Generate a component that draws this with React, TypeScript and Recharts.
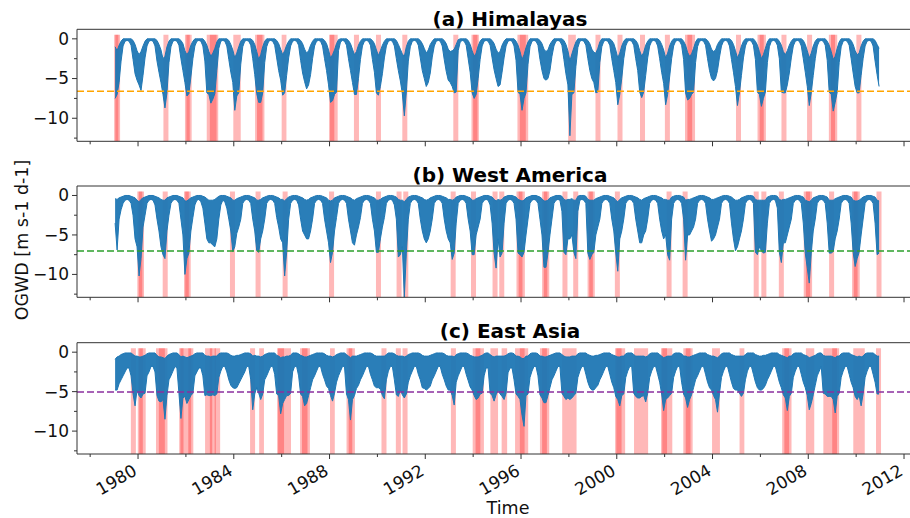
import React from 'react';
import { ComposedChart, Area, XAxis, YAxis, ReferenceArea, ReferenceLine } from 'recharts';

// ---------------- data (monthly envelope of daily OGWD, Jan 1979 .. Dec 2010) ----------------
const START_YEAR = 1979;

const himLow = [
  -7.5,-7.0,-5.5,-2.8,-0.9,-0.3,-0.2,-0.3,-0.8,-2.6,-4.4,-5.2,
  -5.8,-6.5,-4.6,-2.4,-0.9,-0.3,-0.2,-0.3,-0.9,-2.8,-4.2,-5.5,
  -7.0,-8.7,-6.8,-3.0,-1.0,-0.3,-0.2,-0.3,-0.8,-2.5,-4.0,-5.5,
  -7.2,-6.9,-4.8,-2.5,-0.9,-0.3,-0.2,-0.3,-0.9,-2.8,-6.8,-7.0,
  -8.1,-7.6,-6.9,-4.0,-1.2,-0.3,-0.2,-0.3,-0.9,-2.6,-4.2,-5.5,
  -9.0,-7.2,-6.8,-3.2,-1.0,-0.3,-0.2,-0.3,-0.8,-2.5,-4.5,-6.9,
  -8.0,-8.0,-6.8,-3.0,-1.0,-0.3,-0.2,-0.3,-0.8,-2.4,-4.0,-5.2,
  -7.1,-6.8,-4.6,-2.4,-0.9,-0.3,-0.2,-0.3,-0.8,-2.7,-4.3,-5.4,
  -6.3,-5.8,-4.5,-2.5,-0.9,-0.3,-0.2,-0.3,-0.9,-2.5,-4.0,-5.8,
  -8.0,-7.8,-7.0,-6.7,-1.5,-0.4,-0.2,-0.3,-0.8,-2.5,-4.0,-5.5,
  -7.0,-7.0,-5.0,-2.6,-0.9,-0.3,-0.2,-0.3,-0.8,-2.6,-4.2,-6.8,
  -7.1,-6.0,-4.4,-2.4,-0.9,-0.3,-0.2,-0.3,-0.9,-2.5,-4.0,-5.3,
  -6.9,-9.7,-6.7,-2.8,-1.0,-0.3,-0.2,-0.3,-0.8,-2.4,-4.0,-5.0,
  -6.0,-5.5,-4.3,-2.3,-0.9,-0.3,-0.2,-0.3,-0.9,-2.6,-4.1,-5.2,
  -5.5,-6.0,-6.8,-6.7,-1.5,-0.4,-0.2,-0.3,-0.8,-2.5,-4.2,-6.8,
  -7.5,-7.0,-5.0,-2.6,-0.9,-0.3,-0.2,-0.3,-0.8,-2.4,-3.9,-5.0,
  -6.0,-5.8,-4.2,-2.4,-0.9,-0.3,-0.2,-0.3,-0.9,-2.7,-6.7,-7.0,
  -9.0,-7.5,-6.8,-3.2,-1.0,-0.3,-0.2,-0.3,-0.8,-2.6,-4.0,-5.0,
  -5.2,-5.0,-4.0,-2.2,-0.9,-0.3,-0.2,-0.3,-0.8,-2.6,-4.4,-5.8,
  -12.2,-7.0,-6.8,-3.5,-1.1,-0.3,-0.2,-0.3,-0.8,-2.5,-4.0,-5.0,
  -5.5,-6.8,-6.7,-3.0,-1.0,-0.3,-0.2,-0.3,-0.8,-2.5,-4.0,-5.5,
  -8.3,-7.0,-5.0,-2.5,-0.9,-0.3,-0.2,-0.3,-0.8,-2.5,-4.0,-6.7,
  -7.4,-6.7,-4.6,-2.4,-0.9,-0.3,-0.2,-0.3,-0.9,-2.5,-4.2,-5.6,
  -8.3,-7.0,-4.8,-2.5,-0.9,-0.3,-0.2,-0.3,-0.8,-2.6,-6.8,-7.7,
  -7.5,-7.0,-6.7,-3.0,-1.0,-0.3,-0.2,-0.3,-0.8,-2.5,-4.0,-5.0,
  -5.3,-5.0,-4.0,-2.3,-0.9,-0.3,-0.2,-0.3,-0.9,-2.6,-4.2,-6.0,
  -8.4,-6.8,-4.6,-2.4,-0.9,-0.3,-0.2,-0.3,-0.8,-2.6,-6.7,-7.0,
  -8.5,-7.5,-6.7,-3.0,-1.0,-0.3,-0.2,-0.3,-0.8,-2.5,-6.7,-6.8,
  -6.8,-5.8,-4.3,-2.4,-0.9,-0.3,-0.2,-0.3,-0.9,-2.5,-4.2,-6.0,
  -8.4,-6.8,-4.6,-2.5,-0.9,-0.3,-0.2,-0.3,-0.8,-2.7,-6.7,-7.0,
  -9.1,-8.0,-6.7,-3.0,-1.0,-0.3,-0.2,-0.3,-0.8,-2.5,-4.3,-6.0,
  -6.8,-6.8,-4.6,-2.5,-0.9,-0.3,-0.2,-0.3,-0.9,-2.8,-4.5,-6.0,
];
const himHigh = [
  -1.0,-1.5,-0.8,-0.3,0,0,0,0,0,-0.2,-0.7,-1.5,
  -2.0,-1.6,-0.9,-0.3,0,0,0,0,0,-0.2,-0.7,-1.4,
  -2.5,-2.2,-1.0,-0.3,0,0,0,0,0,-0.2,-0.6,-1.5,
  -2.0,-1.6,-0.8,-0.3,0,0,0,0,0,-0.3,-0.8,-1.6,
  -2.2,-1.8,-1.2,-0.4,0,0,0,0,0,-0.2,-0.7,-1.4,
  -2.4,-1.8,-1.0,-0.3,0,0,0,0,0,-0.2,-0.7,-1.6,
  -2.6,-2.0,-1.0,-0.3,0,0,0,0,0,-0.2,-0.6,-1.3,
  -2.0,-1.5,-0.8,-0.3,0,0,0,0,0,-0.2,-0.6,-1.3,
  -1.8,-1.5,-0.8,-0.3,0,0,0,0,0,-0.2,-0.6,-1.4,
  -2.4,-2.0,-1.4,-0.6,-0.1,0,0,0,0,-0.2,-0.6,-1.3,
  -2.0,-1.6,-0.8,-0.3,0,0,0,0,0,-0.2,-0.6,-1.4,
  -2.1,-1.5,-0.8,-0.3,0,0,0,0,0,-0.2,-0.7,-1.3,
  -1.9,-2.2,-1.0,-0.3,0,0,0,0,0,-0.2,-0.6,-1.2,
  -1.8,-1.4,-0.7,-0.3,0,0,0,0,0,-0.2,-0.6,-1.3,
  -1.6,-1.5,-1.3,-0.7,-0.1,0,0,0,0,-0.2,-0.7,-1.5,
  -2.2,-1.8,-0.9,-0.3,0,0,0,0,0,-0.2,-0.6,-1.3,
  -1.8,-1.6,-0.8,-0.3,0,0,0,0,0,-0.3,-0.8,-1.6,
  -2.6,-2.0,-1.1,-0.4,0,0,0,0,0,-0.2,-0.6,-1.3,
  -1.6,-1.4,-0.7,-0.3,0,0,0,0,0,-0.2,-0.7,-1.5,
  -2.8,-1.9,-1.1,-0.4,0,0,0,0,0,-0.2,-0.6,-1.3,
  -1.7,-1.8,-1.2,-0.4,0,0,0,0,0,-0.2,-0.6,-1.4,
  -2.4,-1.8,-0.9,-0.3,0,0,0,0,0,-0.2,-0.6,-1.5,
  -2.2,-1.7,-0.8,-0.3,0,0,0,0,0,-0.2,-0.7,-1.4,
  -2.4,-1.8,-0.9,-0.3,0,0,0,0,0,-0.3,-0.8,-1.7,
  -2.2,-1.9,-1.2,-0.4,0,0,0,0,0,-0.2,-0.6,-1.3,
  -1.6,-1.4,-0.7,-0.3,0,0,0,0,0,-0.2,-0.7,-1.5,
  -2.4,-1.8,-0.9,-0.3,0,0,0,0,0,-0.3,-0.8,-1.6,
  -2.5,-2.0,-1.2,-0.4,0,0,0,0,0,-0.3,-0.8,-1.6,
  -2.0,-1.5,-0.8,-0.3,0,0,0,0,0,-0.2,-0.7,-1.5,
  -2.4,-1.8,-0.9,-0.3,0,0,0,0,0,-0.3,-0.8,-1.6,
  -2.6,-2.2,-1.2,-0.4,0,0,0,0,0,-0.2,-0.7,-1.5,
  -2.0,-1.8,-0.9,-0.3,0,0,0,0,0,-0.2,-0.7,-1.2,
];

const wamLow = [
  -3.5,-6.9,-3.0,-1.8,-1.0,-0.6,-0.5,-0.6,-1.0,-2.5,-5.5,-6.5,
  -10.2,-8.0,-4.0,-2.5,-1.0,-0.6,-0.5,-0.6,-1.2,-3.0,-4.5,-6.5,
  -7.5,-8.0,-4.5,-2.5,-1.0,-0.6,-0.5,-0.6,-1.0,-3.0,-5.0,-10.0,
  -8.0,-7.3,-4.5,-2.8,-1.2,-0.6,-0.5,-0.8,-1.6,-3.5,-5.5,-6.0,
  -6.0,-6.3,-6.5,-5.5,-3.0,-1.2,-0.6,-0.8,-1.6,-3.0,-4.5,-7.1,
  -6.5,-4.8,-4.0,-3.0,-1.0,-0.6,-0.5,-0.6,-1.0,-3.0,-4.5,-7.0,
  -7.2,-5.5,-4.5,-3.0,-1.0,-0.6,-0.5,-0.6,-1.0,-2.8,-4.0,-5.5,
  -6.0,-10.2,-7.2,-3.0,-1.0,-0.6,-0.5,-0.6,-1.2,-3.0,-4.5,-5.0,
  -5.5,-5.5,-4.5,-3.0,-1.0,-0.6,-0.5,-0.6,-1.0,-3.0,-4.5,-6.0,
  -8.5,-7.2,-4.5,-2.8,-1.0,-0.6,-0.5,-0.6,-1.0,-3.0,-4.5,-6.0,
  -6.3,-5.0,-4.0,-2.8,-1.0,-0.6,-0.5,-0.6,-1.0,-3.0,-4.5,-7.2,
  -7.2,-5.5,-4.0,-2.8,-1.0,-0.6,-0.5,-0.6,-1.2,-3.0,-7.8,-7.5,
  -6.5,-12.9,-7.3,-3.0,-1.0,-0.6,-0.5,-0.6,-1.0,-3.0,-4.5,-5.5,
  -6.0,-5.5,-4.5,-3.0,-1.0,-0.6,-0.5,-0.6,-1.0,-3.0,-4.5,-5.5,
  -6.0,-8.1,-7.3,-3.5,-1.0,-0.6,-0.5,-0.6,-1.0,-3.0,-4.5,-7.5,
  -7.5,-5.0,-4.0,-3.0,-1.0,-0.6,-0.5,-0.6,-1.2,-3.5,-7.3,-9.2,
  -5.5,-7.8,-7.3,-3.5,-1.0,-0.6,-0.5,-0.6,-1.0,-3.0,-7.3,-7.5,
  -7.8,-7.2,-5.0,-3.0,-1.0,-0.6,-0.5,-0.6,-1.0,-3.0,-5.0,-9.1,
  -9.1,-7.3,-5.0,-3.0,-1.0,-0.6,-0.5,-0.6,-2.0,-7.2,-7.5,-5.5,
  -5.5,-5.0,-7.2,-8.0,-2.0,-0.6,-0.5,-0.6,-1.0,-7.3,-8.1,-7.5,
  -7.2,-5.0,-4.0,-3.0,-1.0,-0.6,-0.5,-0.6,-1.0,-3.0,-4.5,-7.3,
  -9.6,-5.5,-4.5,-3.0,-1.0,-0.6,-0.5,-0.6,-1.0,-3.0,-4.5,-6.0,
  -6.0,-5.0,-4.5,-3.0,-1.0,-0.6,-0.5,-0.6,-1.0,-3.0,-4.5,-5.5,
  -5.0,-7.5,-8.2,-3.0,-1.0,-0.6,-0.5,-0.6,-1.0,-3.0,-8.2,-5.0,
  -5.0,-4.5,-4.0,-3.0,-1.0,-0.6,-0.5,-0.6,-1.0,-3.0,-4.5,-5.8,
  -5.5,-5.0,-4.0,-3.0,-1.0,-0.6,-0.5,-0.6,-1.0,-3.5,-5.5,-7.0,
  -6.5,-5.5,-4.5,-3.0,-1.0,-0.6,-0.5,-0.6,-1.0,-7.2,-7.5,-6.5,
  -7.0,-7.3,-7.2,-3.5,-1.0,-0.6,-0.5,-0.6,-1.6,-7.2,-8.5,-6.0,
  -6.0,-5.0,-4.0,-3.0,-1.0,-0.6,-0.5,-0.6,-1.0,-3.5,-7.3,-9.2,
  -11.1,-7.3,-4.5,-3.0,-1.0,-0.6,-0.5,-0.6,-1.0,-3.5,-7.3,-7.3,
  -7.1,-5.5,-4.5,-3.0,-1.0,-0.6,-0.5,-0.6,-1.0,-3.5,-7.2,-9.0,
  -8.0,-7.2,-5.0,-3.0,-1.0,-0.6,-0.5,-0.6,-1.0,-3.5,-7.5,-7.3,
];
const wamHigh = [
  -0.4,-0.5,-0.3,-0.2,-0.1,0,0,0,-0.1,-0.2,-0.3,-0.6,
  -0.8,-0.5,-0.3,-0.2,-0.1,0,0,0,-0.1,-0.2,-0.3,-0.5,
  -0.6,-0.6,-0.3,-0.2,-0.1,0,0,0,-0.1,-0.2,-0.3,-0.7,
  -0.7,-0.5,-0.3,-0.2,-0.1,0,0,0,-0.1,-0.2,-0.4,-0.6,
  -0.6,-0.6,-0.5,-0.3,-0.1,0,0,0,-0.1,-0.2,-0.3,-0.6,
  -0.6,-0.4,-0.3,-0.2,-0.1,0,0,0,-0.1,-0.2,-0.3,-0.6,
  -0.6,-0.5,-0.3,-0.2,-0.1,0,0,0,-0.1,-0.2,-0.3,-0.5,
  -0.5,-0.7,-0.4,-0.2,-0.1,0,0,0,-0.1,-0.2,-0.3,-0.5,
  -0.6,-0.5,-0.3,-0.2,-0.1,0,0,0,-0.1,-0.2,-0.3,-0.6,
  -0.7,-0.6,-0.3,-0.2,-0.1,0,0,0,-0.1,-0.2,-0.3,-0.5,
  -0.6,-0.4,-0.3,-0.2,-0.1,0,0,0,-0.1,-0.2,-0.3,-0.6,
  -0.6,-0.5,-0.3,-0.2,-0.1,0,0,0,-0.1,-0.2,-0.5,-0.6,
  -0.6,-0.8,-0.5,-0.2,-0.1,0,0,0,-0.1,-0.2,-0.3,-0.5,
  -0.6,-0.5,-0.3,-0.2,-0.1,0,0,0,-0.1,-0.2,-0.3,-0.5,
  -0.5,-0.6,-0.5,-0.2,-0.1,0,0,0,-0.1,-0.2,-0.3,-0.6,
  -0.6,-0.4,-0.3,-0.2,-0.1,0,0,0,-0.1,-0.2,-0.5,-0.7,
  -0.5,-0.6,-0.5,-0.2,-0.1,0,0,0,-0.1,-0.2,-0.5,-0.6,
  -0.7,-0.6,-0.3,-0.2,-0.1,0,0,0,-0.1,-0.2,-0.4,-0.7,
  -0.7,-0.6,-0.3,-0.2,-0.1,0,0,0,-0.1,-0.5,-0.6,-0.5,
  -0.5,-0.4,-0.6,-0.6,-0.1,0,0,0,-0.1,-0.5,-0.6,-0.6,
  -0.6,-0.4,-0.3,-0.2,-0.1,0,0,0,-0.1,-0.2,-0.3,-0.6,
  -0.8,-0.5,-0.3,-0.2,-0.1,0,0,0,-0.1,-0.2,-0.3,-0.5,
  -0.6,-0.4,-0.3,-0.2,-0.1,0,0,0,-0.1,-0.2,-0.3,-0.5,
  -0.5,-0.6,-0.6,-0.2,-0.1,0,0,0,-0.1,-0.2,-0.6,-0.5,
  -0.5,-0.4,-0.3,-0.2,-0.1,0,0,0,-0.1,-0.2,-0.3,-0.5,
  -0.5,-0.4,-0.3,-0.2,-0.1,0,0,0,-0.1,-0.2,-0.4,-0.6,
  -0.6,-0.5,-0.3,-0.2,-0.1,0,0,0,-0.1,-0.5,-0.6,-0.6,
  -0.6,-0.6,-0.6,-0.2,-0.1,0,0,0,-0.1,-0.5,-0.6,-0.5,
  -0.5,-0.4,-0.3,-0.2,-0.1,0,0,0,-0.1,-0.2,-0.6,-0.7,
  -0.8,-0.6,-0.3,-0.2,-0.1,0,0,0,-0.1,-0.2,-0.6,-0.6,
  -0.6,-0.4,-0.3,-0.2,-0.1,0,0,0,-0.1,-0.2,-0.6,-0.7,
  -0.7,-0.6,-0.4,-0.2,-0.1,0,0,0,-0.1,-0.2,-0.6,-0.7,
];

const easLow = [
  -4.8,-4.8,-4.0,-3.5,-3.0,-2.5,-2.0,-2.0,-3.0,-5.3,-6.8,-4.8,
  -5.5,-5.8,-5.3,-5.2,-3.0,-2.5,-1.8,-1.8,-2.5,-5.5,-6.2,-6.3,
  -6.0,-8.5,-5.5,-3.5,-3.0,-2.4,-1.8,-2.0,-5.2,-8.4,-5.8,-5.6,
  -6.5,-6.0,-5.5,-5.2,-3.0,-2.5,-2.0,-2.0,-3.0,-5.5,-5.4,-5.5,
  -5.5,-5.4,-5.5,-5.3,-3.2,-2.4,-1.8,-1.8,-2.5,-3.5,-4.2,-4.5,
  -4.6,-4.5,-4.0,-3.5,-3.0,-2.5,-1.8,-1.8,-3.5,-7.3,-5.3,-4.5,
  -5.2,-6.0,-5.3,-3.5,-3.0,-2.4,-1.8,-1.8,-2.8,-5.3,-5.5,-7.8,
  -6.5,-6.0,-5.5,-5.5,-5.2,-2.5,-1.8,-1.8,-3.0,-5.3,-5.6,-6.8,
  -6.5,-5.5,-4.5,-3.5,-3.0,-2.4,-1.8,-1.8,-2.8,-3.5,-4.3,-4.6,
  -5.5,-6.2,-5.2,-3.8,-3.0,-2.4,-1.8,-1.8,-5.3,-6.0,-8.6,-6.0,
  -5.5,-4.6,-4.2,-3.5,-3.0,-2.4,-1.8,-1.8,-2.8,-3.5,-4.3,-4.5,
  -4.5,-4.7,-5.5,-5.9,-3.5,-2.4,-1.8,-1.8,-3.5,-5.4,-5.6,-4.8,
  -5.4,-5.8,-5.3,-3.8,-3.0,-2.4,-1.8,-1.8,-2.8,-3.5,-4.5,-4.6,
  -4.8,-4.6,-4.3,-3.5,-3.0,-2.4,-1.8,-1.8,-2.8,-3.5,-4.3,-4.8,
  -4.8,-5.5,-6.7,-3.8,-3.0,-2.4,-1.8,-1.8,-2.8,-3.6,-4.4,-4.8,
  -5.5,-6.0,-5.8,-5.3,-5.2,-3.0,-2.0,-2.0,-5.2,-5.5,-6.2,-5.4,
  -4.8,-5.3,-5.6,-6.0,-5.2,-2.6,-2.0,-2.0,-3.5,-5.3,-5.6,-6.0,
  -8.0,-9.4,-5.5,-5.3,-3.2,-2.4,-1.8,-1.8,-3.0,-5.4,-5.8,-6.4,
  -6.4,-5.5,-4.5,-3.5,-3.0,-2.4,-1.8,-1.8,-5.2,-5.6,-6.0,-5.8,
  -6.0,-5.8,-5.5,-5.2,-3.2,-2.4,-1.8,-1.8,-2.8,-3.8,-4.5,-4.8,
  -4.8,-4.5,-4.2,-3.5,-3.0,-2.4,-1.8,-1.8,-2.8,-3.8,-4.5,-5.6,
  -6.0,-6.8,-5.5,-5.3,-3.2,-2.4,-1.8,-1.8,-5.2,-5.6,-5.8,-5.8,
  -5.6,-5.5,-6.3,-5.2,-3.2,-2.4,-1.8,-1.8,-2.8,-3.8,-5.3,-7.4,
  -6.0,-5.8,-5.5,-5.2,-3.2,-2.4,-1.8,-1.8,-3.8,-5.3,-5.8,-7.0,
  -6.0,-5.4,-4.5,-3.5,-3.0,-2.4,-1.8,-1.8,-2.8,-3.8,-4.5,-4.8,
  -5.5,-6.0,-7.6,-5.2,-3.2,-2.4,-1.8,-1.8,-2.8,-3.8,-4.6,-4.8,
  -4.8,-5.2,-5.6,-5.2,-3.5,-2.4,-1.8,-1.8,-2.8,-3.8,-4.5,-4.8,
  -4.8,-4.6,-4.2,-3.5,-3.0,-2.4,-1.8,-1.8,-2.8,-3.8,-4.5,-5.4,
  -5.8,-7.4,-5.6,-5.2,-3.2,-2.4,-1.8,-1.8,-2.8,-3.8,-4.5,-5.5,
  -7.3,-6.5,-5.4,-4.2,-3.0,-2.4,-1.8,-5.2,-5.3,-5.6,-5.6,-5.6,
  -6.0,-7.7,-5.6,-5.2,-3.2,-2.4,-1.8,-1.8,-2.8,-3.8,-4.5,-5.6,
  -6.0,-5.5,-6.8,-5.3,-3.2,-2.4,-1.8,-1.8,-2.8,-3.8,-5.3,-5.3,
];
const easHigh = [
  -0.9,-0.6,-0.5,-0.3,-0.2,-0.1,-0.1,-0.1,-0.1,-0.3,-0.5,-0.5,
  -0.6,-0.6,-0.5,-0.4,-0.2,-0.1,-0.1,-0.1,-0.1,-0.4,-0.6,-0.6,
  -0.7,-0.8,-0.5,-0.3,-0.2,-0.1,-0.1,-0.1,-0.3,-0.6,-0.5,-0.6,
  -0.7,-0.6,-0.5,-0.4,-0.2,-0.1,-0.1,-0.1,-0.1,-0.4,-0.5,-0.5,
  -0.6,-0.5,-0.5,-0.5,-0.2,-0.1,-0.1,-0.1,-0.1,-0.2,-0.4,-0.5,
  -0.5,-0.4,-0.4,-0.3,-0.2,-0.1,-0.1,-0.1,-0.2,-0.5,-0.4,-0.5,
  -0.5,-0.6,-0.5,-0.3,-0.2,-0.1,-0.1,-0.1,-0.1,-0.4,-0.5,-0.7,
  -0.6,-0.6,-0.5,-0.5,-0.4,-0.1,-0.1,-0.1,-0.2,-0.4,-0.5,-0.6,
  -0.6,-0.5,-0.4,-0.3,-0.2,-0.1,-0.1,-0.1,-0.1,-0.2,-0.4,-0.5,
  -0.5,-0.6,-0.5,-0.3,-0.2,-0.1,-0.1,-0.1,-0.3,-0.5,-0.7,-0.5,
  -0.5,-0.5,-0.4,-0.3,-0.2,-0.1,-0.1,-0.1,-0.1,-0.2,-0.4,-0.5,
  -0.5,-0.5,-0.5,-0.5,-0.3,-0.1,-0.1,-0.1,-0.2,-0.4,-0.5,-0.5,
  -0.5,-0.6,-0.5,-0.3,-0.2,-0.1,-0.1,-0.1,-0.1,-0.2,-0.4,-0.5,
  -0.5,-0.5,-0.4,-0.3,-0.2,-0.1,-0.1,-0.1,-0.1,-0.2,-0.4,-0.5,
  -0.5,-0.5,-0.6,-0.3,-0.2,-0.1,-0.1,-0.1,-0.1,-0.2,-0.4,-0.5,
  -0.6,-0.6,-0.6,-0.5,-0.4,-0.2,-0.1,-0.1,-0.3,-0.5,-0.6,-0.5,
  -0.5,-0.5,-0.5,-0.5,-0.4,-0.2,-0.1,-0.1,-0.2,-0.5,-0.5,-0.6,
  -0.8,-0.8,-0.5,-0.5,-0.2,-0.1,-0.1,-0.1,-0.2,-0.5,-0.5,-0.6,
  -0.6,-0.5,-0.4,-0.3,-0.2,-0.1,-0.1,-0.1,-0.3,-0.5,-0.6,-0.6,
  -0.6,-0.5,-0.5,-0.5,-0.2,-0.1,-0.1,-0.1,-0.1,-0.3,-0.4,-0.5,
  -0.5,-0.4,-0.4,-0.3,-0.2,-0.1,-0.1,-0.1,-0.1,-0.3,-0.4,-0.5,
  -0.6,-0.6,-0.5,-0.5,-0.2,-0.1,-0.1,-0.1,-0.3,-0.5,-0.5,-0.5,
  -0.5,-0.5,-0.6,-0.5,-0.2,-0.1,-0.1,-0.1,-0.1,-0.3,-0.5,-0.7,
  -0.6,-0.5,-0.5,-0.5,-0.2,-0.1,-0.1,-0.1,-0.2,-0.5,-0.5,-0.6,
  -0.6,-0.5,-0.4,-0.3,-0.2,-0.1,-0.1,-0.1,-0.1,-0.3,-0.4,-0.5,
  -0.5,-0.6,-0.7,-0.5,-0.2,-0.1,-0.1,-0.1,-0.1,-0.3,-0.4,-0.5,
  -0.5,-0.5,-0.5,-0.5,-0.3,-0.1,-0.1,-0.1,-0.1,-0.3,-0.4,-0.5,
  -0.5,-0.4,-0.4,-0.3,-0.2,-0.1,-0.1,-0.1,-0.1,-0.3,-0.4,-0.5,
  -0.6,-0.7,-0.5,-0.5,-0.2,-0.1,-0.1,-0.1,-0.1,-0.3,-0.4,-0.5,
  -0.7,-0.6,-0.5,-0.4,-0.2,-0.1,-0.1,-0.4,-0.5,-0.5,-0.5,-0.5,
  -0.6,-0.7,-0.5,-0.5,-0.2,-0.1,-0.1,-0.1,-0.1,-0.3,-0.4,-0.5,
  -0.6,-0.5,-0.6,-0.5,-0.2,-0.1,-0.1,-0.1,-0.1,-0.3,-0.5,-0.5,
];

// exceedance events (decimal years), shaded in red
const himEvents = [
  [1979.0,1979.25],[1979.05,1979.18],[1981.06,1981.27],[1981.96,1982.24],[1982.02,1982.16],
  [1982.87,1983.35],[1983.0,1983.28],[1983.98,1984.29],[1984.89,1985.28],[1984.97,1985.2],
  [1986.0,1986.2],[1987.98,1988.34],[1988.02,1988.2],[1989.02,1989.23],[1989.94,1990.15],
  [1991.04,1991.25],[1993.17,1993.38],[1993.93,1994.24],[1994.0,1994.18],[1995.85,1996.3],
  [1995.95,1996.2],[1997.97,1998.29],[1999.11,1999.32],[2000.03,2000.24],[2000.97,2001.18],
  [2002.01,2002.22],[2002.85,2003.27],[2002.95,2003.15],[2004.98,2005.19],[2005.88,2006.23],
  [2005.97,2006.14],[2006.88,2007.09],[2007.95,2008.16],[2008.86,2009.21],[2008.95,2009.12],
  [2010.01,2010.22],
];
const wamEvents = [
  [1979.97,1980.25],[1980.03,1980.18],[1981.03,1981.24],[1981.92,1982.2],[1981.97,1982.12],
  [1983.84,1984.05],[1984.91,1985.12],[1986.04,1986.25],[1987.98,1988.19],[1989.94,1990.15],
  [1990.8,1991.01],[1991.08,1991.29],[1993.06,1993.27],[1993.91,1994.12],[1994.81,1995.02],
  [1995.09,1995.3],[1995.81,1996.16],[1995.9,1996.06],[1996.88,1997.18],[1996.95,1997.1],
  [1997.73,1997.94],[1998.18,1998.39],[1998.78,1999.08],[1998.85,1999.0],[1999.92,2000.13],
  [2002.08,2002.29],[2002.75,2002.96],[2005.72,2005.93],[2006.04,2006.25],[2006.77,2006.98],
  [2007.81,2008.16],[2007.9,2008.08],[2008.87,2009.08],[2009.83,2010.15],[2009.9,2010.06],
  [2010.85,2011.06],
];
const easEvents = [
  [1979.7,1979.91],[1979.99,1980.32],[1980.05,1980.2],[1980.75,1981.23],[1980.87,1981.12],
  [1981.72,1982.31],[1981.77,1981.9],[1982.1,1982.22],[1982.8,1983.1],[1983.0,1983.25],
  [1983.2,1983.43],[1984.68,1984.89],[1985.06,1985.26],[1985.81,1986.39],[1985.85,1986.1],
  [1986.77,1987.18],[1986.85,1987.08],[1988.02,1988.22],[1988.71,1989.06],[1988.8,1988.95],
  [1990.17,1990.38],[1990.77,1990.98],[1991.05,1991.26],[1993.07,1993.28],[1993.98,1994.45],
  [1994.1,1994.3],[1994.72,1995.04],[1995.19,1995.42],[1995.75,1996.3],[1995.95,1996.15],
  [1996.79,1997.18],[1996.88,1997.08],[1997.72,1998.32],[1999.93,2000.35],[1999.98,2000.2],
  [2000.72,2001.31],[2001.85,2002.32],[2001.9,2002.1],[2002.78,2003.17],[2002.88,2003.08],
  [2003.98,2004.31],[2005.13,2005.33],[2006.91,2007.3],[2007.0,2007.2],[2007.9,2008.25],
  [2008.63,2009.29],[2009.0,2009.2],[2009.88,2010.36],[2010.83,2011.04],
];

const thresholds = { him: -6.6, wam: -7.05, eas: -5.05 };
const titles = ['(a) Himalayas', '(b) West America', '(c) East Asia'];
const xTickValues = [1978,1980,1982,1984,1986,1988,1990,1992,1994,1996,1998,2000,2002,2004,2006,2008,2010,2012];
const yTickValues = [0,-2.5,-5,-7.5,-10,-12.5];

// ---------------- layout ----------------
const W = 910;
const PLOT_LEFT = 77;
const X_DOMAIN: [number, number] = [1977.45, 2012.25];
const Y_DOMAIN: [number, number] = [-12.9, 1.2];
const FONT = '"DejaVu Sans", Verdana, sans-serif';
const AXIS_COLOR = '#333';

function buildRows(low: number[], high: number[]) {
  return low.map((lo, i) => ({ t: START_YEAR + (i + 0.5) / 12, r: [lo, high[i]] }));
}

const himRows = buildRows(himLow, himHigh);
const wamRows = buildRows(wamLow, wamHigh);
const easRows = buildRows(easLow, easHigh);

const fmtY = (v: number) => (v === 0 ? '0' : '\u2212' + Math.abs(v));

function makeXTick(plotBottom: number, labels: boolean) {
  return (props: any) => {
    const { x, payload } = props;
    const v = payload.value;
    const major = v % 4 === 0;
    return (
      <g>
        <line x1={x} x2={x} y1={plotBottom} y2={plotBottom + (major ? 5 : 3)} stroke={AXIS_COLOR} strokeWidth={1} />
        {labels && major ? (
          <text
            x={x}
            y={plotBottom + 20}
            textAnchor="end"
            fontSize={17}
            fontFamily={FONT}
            fill="#111"
            transform={`rotate(-30, ${x}, ${plotBottom + 20})`}
          >
            {v}
          </text>
        ) : null}
      </g>
    );
  };
}

function YTick(props: any) {
  const { y, payload } = props;
  const v = payload.value;
  const major = v % 5 === 0;
  return (
    <g>
      <line x1={PLOT_LEFT - (major ? 5 : 3)} x2={PLOT_LEFT} y1={y} y2={y} stroke={AXIS_COLOR} strokeWidth={1} />
      {major ? (
        <text x={PLOT_LEFT - 8} y={y} dy="0.35em" textAnchor="end" fontSize={17} fontFamily={FONT} fill="#111">
          {fmtY(v)}
        </text>
      ) : null}
    </g>
  );
}

type PanelProps = {
  top: number;
  height: number;
  mTop: number;
  mBottom: number;
  rows: any[];
  events: number[][];
  thr: number;
  thrColor: string;
  labels: boolean;
};

function Panel({ top, height, mTop, mBottom, rows, events, thr, thrColor, labels }: PanelProps) {
  const plotBottom = height - mBottom;
  return (
    <div style={{ position: 'absolute', left: 0, top, width: W, height }}>
      <div style={{ position: 'absolute', left: 0, top: 0 }}>
        <ComposedChart width={W} height={height} data={rows} margin={{ top: mTop, right: 0, bottom: mBottom, left: PLOT_LEFT }}>
          <XAxis type="number" dataKey="t" domain={X_DOMAIN} hide allowDataOverflow />
          <YAxis type="number" domain={Y_DOMAIN} hide allowDataOverflow />
          {events.map(([a, b], i) => (
            <ReferenceArea key={i} x1={a} x2={b} y1={Y_DOMAIN[0]} y2={0.5} fill="#ff0000" fillOpacity={0.28} stroke="none" ifOverflow="hidden" />
          ))}
        </ComposedChart>
      </div>
      <div style={{ position: 'absolute', left: 0, top: 0 }}>
        <ComposedChart width={W} height={height} data={rows} margin={{ top: mTop, right: 0, bottom: 0, left: 0 }}>
          <XAxis
            type="number"
            dataKey="t"
            domain={X_DOMAIN}
            ticks={xTickValues}
            interval={0}
            height={mBottom}
            tickLine={false}
            axisLine={{ stroke: AXIS_COLOR, strokeWidth: 1 }}
            tick={makeXTick(plotBottom, labels)}
            allowDataOverflow
          />
          <YAxis
            type="number"
            domain={Y_DOMAIN}
            ticks={yTickValues}
            interval={0}
            width={PLOT_LEFT}
            tickLine={false}
            axisLine={{ stroke: AXIS_COLOR, strokeWidth: 1 }}
            tick={YTick}
            allowDataOverflow
          />
          <Area
            dataKey="r"
            type="linear"
            stroke="#1f77b4"
            strokeWidth={1}
            fill="#1f77b4"
            fillOpacity={0.95}
            dot={false}
            activeDot={false}
            isAnimationActive={false}
          />
          <ReferenceLine y={thr} stroke={thrColor} strokeWidth={1.5} strokeDasharray="7 3" />
          <ReferenceLine y={Y_DOMAIN[1]} stroke={AXIS_COLOR} strokeWidth={1} />
        </ComposedChart>
      </div>
    </div>
  );
}

export default function App() {
  return (
    <div style={{ position: 'absolute', left: 0, top: 0, width: W, height: 518, background: '#fff', overflow: 'hidden', fontFamily: FONT }}>
      <Panel top={0} height={160} mTop={29.3} mBottom={18.7} rows={himRows} events={himEvents} thr={thresholds.him} thrColor="#ffa500" labels={false} />
      <Panel top={160} height={160} mTop={26} mBottom={22.7} rows={wamRows} events={wamEvents} thr={thresholds.wam} thrColor="#2ca02c" labels={false} />
      <Panel top={320} height={198} mTop={22.7} mBottom={64} rows={easRows} events={easEvents} thr={thresholds.eas} thrColor="#8a2f9f" labels={true} />
      <svg width={W} height={518} style={{ position: 'absolute', left: 0, top: 0, pointerEvents: 'none' }}>
        <text x={510} y={26} textAnchor="middle" fontSize={20} fontWeight="bold" fontFamily={FONT} fill="#000">{titles[0]}</text>
        <text x={510} y={181.5} textAnchor="middle" fontSize={20} fontWeight="bold" fontFamily={FONT} fill="#000">{titles[1]}</text>
        <text x={510} y={337.5} textAnchor="middle" fontSize={20} fontWeight="bold" fontFamily={FONT} fill="#000">{titles[2]}</text>
        <text x={28} y={240} textAnchor="middle" fontSize={17.5} fontFamily={FONT} fill="#111" transform="rotate(-90, 28, 240)">OGWD [m s-1 d-1]</text>
        <text x={508} y={514} textAnchor="middle" fontSize={17.5} fontFamily={FONT} fill="#111">Time</text>
      </svg>
    </div>
  );
}
